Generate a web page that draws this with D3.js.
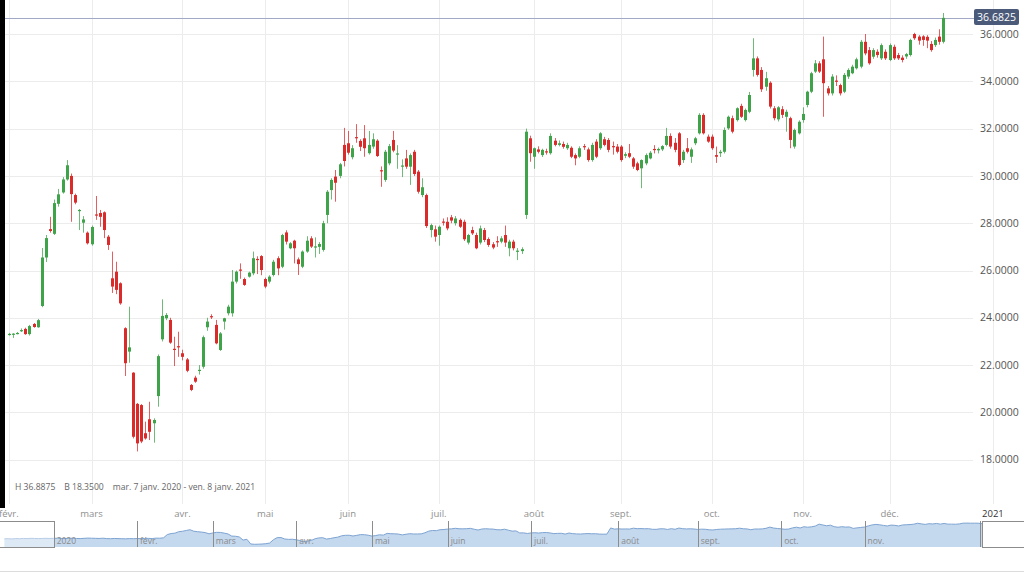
<!DOCTYPE html>
<html><head><meta charset="utf-8">
<script src="https://cdn.jsdelivr.net/npm/d3@7"></script>
<style>html,body{margin:0;padding:0;background:#fff;overflow:hidden}svg{display:block;font-family:"Open Sans",sans-serif}</style>
</head><body><svg id="c" width="1024" height="576"></svg>
<script>
// ---- data (trading days from 3 Feb 2020) ----
const openV = [
23.30,23.30,23.33,23.46,23.53,23.31,23.74,23.60,24.50,26.55,
27.75,27.55,28.82,29.30,29.85,30.00,29.19,28.54,28.02,27.60,
27.11,28.37,28.43,28.46,27.43,25.67,25.95,25.46,23.56,22.57,
21.68,20.36,20.31,19.12,19.71,19.54,20.69,23.09,23.98,23.91,
22.69,22.80,22.50,22.24,21.16,21.47,21.78,21.93,23.60,24.07,
23.70,22.64,23.84,24.19,24.19,25.53,26.04,25.64,25.74,25.88,
26.49,26.61,25.64,25.53,25.81,26.52,26.16,27.61,26.94,27.26,
26.47,26.16,26.80,27.36,26.98,27.00,26.87,28.35,29.40,29.97,
30.00,31.31,31.38,30.79,31.64,31.48,31.59,30.96,31.24,31.49,
30.24,29.83,30.53,31.52,30.91,30.40,30.74,30.39,31.02,30.18,
29.19,29.19,27.71,27.74,27.50,28.07,28.06,28.25,28.00,28.14,
28.06,27.18,27.71,27.50,27.18,27.71,27.33,27.11,27.24,27.22,
27.50,26.94,27.22,26.80,26.82,28.35,31.59,30.81,31.12,30.88,
31.04,30.96,31.49,31.31,31.35,31.17,31.19,30.88,30.81,31.26,
31.12,30.67,31.45,31.17,31.55,31.52,31.26,31.24,31.24,30.85,
30.96,30.74,30.53,30.32,30.53,30.74,31.14,31.08,31.12,31.31,
31.69,31.40,31.80,30.67,31.17,30.81,31.38,31.80,32.58,31.66,
31.66,30.88,30.96,31.02,32.01,32.44,32.36,32.96,32.36,32.71,
34.48,34.97,34.48,33.77,33.94,32.86,32.39,32.82,32.50,32.44,
31.24,31.80,32.36,33.00,33.56,34.41,34.76,34.93,33.70,33.49,
34.03,33.84,33.56,34.20,34.34,34.55,34.62,35.67,35.32,35.04,
35.25,34.97,35.25,34.90,35.46,35.11,35.00,35.05,35.11,36.00,
35.89,35.90,35.88,35.58,35.53,35.89,35.67];
const highV = [
23.36,23.35,23.40,23.55,23.58,23.70,23.78,23.95,26.95,27.50,
28.27,29.00,29.45,29.95,30.67,30.10,29.25,28.60,28.30,27.65,
27.90,29.15,28.56,28.50,27.50,26.80,26.37,25.50,23.60,24.47,
21.70,20.40,20.35,19.61,20.45,19.75,22.45,24.78,24.20,24.00,
23.20,23.41,22.65,22.30,21.20,21.55,22.00,23.25,24.00,24.15,
23.91,23.40,24.00,24.55,26.02,26.00,26.30,25.70,25.95,26.80,
26.60,26.65,25.70,25.80,26.45,26.60,27.55,27.70,27.20,27.30,
26.55,26.85,27.45,27.45,27.40,27.20,28.10,29.40,29.90,30.25,
30.55,32.03,31.90,31.30,32.19,31.55,32.15,31.90,31.80,31.55,
30.40,31.10,31.35,31.90,31.30,30.70,31.10,30.95,31.10,30.25,
29.90,29.25,27.98,27.90,27.90,28.20,28.25,28.35,28.30,28.20,
28.15,27.55,27.85,27.60,27.90,27.80,27.40,27.20,27.45,27.45,
27.90,27.30,27.30,26.95,26.98,32.00,31.70,31.20,31.25,31.15,
31.15,31.80,31.60,31.50,31.45,31.40,31.25,30.95,31.25,31.35,
31.20,31.40,31.55,31.85,31.65,31.60,31.45,31.35,31.30,31.00,
31.35,30.80,30.60,30.70,30.95,31.05,31.30,31.20,31.30,32.03,
31.80,31.60,31.85,31.10,31.60,31.20,31.65,32.65,32.65,31.75,
31.75,31.24,31.10,32.05,32.55,32.55,32.90,33.05,32.85,33.55,
35.82,35.05,34.60,34.40,34.00,32.95,32.95,32.95,32.80,32.50,
32.00,32.35,32.90,33.60,34.40,34.90,34.85,35.89,33.80,34.30,
34.25,33.90,34.35,34.55,34.70,35.00,35.75,36.00,35.45,35.40,
35.35,35.60,35.35,35.60,35.55,35.20,35.10,35.20,35.80,36.05,
35.95,35.95,35.95,35.70,35.85,36.20,36.8875];
const lowV = [
23.25,23.15,23.30,23.40,23.28,23.25,23.58,23.58,24.45,26.36,
27.60,27.50,28.70,29.25,29.80,28.06,28.80,27.71,27.60,27.10,
27.05,28.14,27.85,27.37,26.87,25.05,25.00,24.55,21.54,22.10,
18.90,18.35,18.70,18.85,18.83,18.72,20.24,23.00,23.90,22.90,
21.96,22.35,22.20,21.70,20.90,21.25,21.60,21.85,23.45,23.95,
22.88,22.60,23.50,24.10,24.05,25.45,25.65,25.35,25.70,25.80,
25.85,25.80,25.25,25.45,25.75,25.80,26.10,27.10,26.90,26.30,
25.81,26.10,26.75,26.95,26.55,26.70,26.80,28.00,29.00,28.91,
29.90,30.40,30.90,30.70,31.40,31.05,30.81,30.90,31.15,30.80,
29.54,29.75,30.45,31.00,30.30,29.95,30.30,29.62,30.00,29.25,
29.10,27.80,27.40,27.22,27.05,27.90,27.70,28.00,27.90,27.80,
27.25,27.10,27.50,26.90,27.10,27.20,27.00,26.90,27.00,27.15,
27.00,26.60,26.85,26.44,26.70,28.18,30.60,30.30,30.95,30.80,
30.90,30.90,31.25,31.25,31.15,31.10,30.75,30.45,30.75,31.10,
30.60,30.60,30.75,31.10,31.25,31.00,30.90,30.95,30.60,30.75,
30.75,30.30,30.20,29.48,30.45,30.70,30.95,30.95,31.05,31.25,
31.15,31.00,30.40,30.55,30.95,30.55,31.30,31.75,31.75,31.40,
31.10,30.55,30.80,30.95,31.95,31.80,32.30,32.45,32.30,32.65,
34.20,34.20,33.55,33.60,32.85,32.35,32.30,32.45,31.87,31.17,
31.15,31.75,32.25,32.90,33.50,34.35,34.35,32.50,33.40,33.40,
33.80,33.40,33.50,34.10,34.30,34.50,34.55,35.10,34.70,34.95,
35.00,34.90,34.90,34.85,34.90,34.90,34.80,34.95,35.05,35.75,
35.55,35.50,35.40,35.25,35.45,35.55,35.60];
const closeV = [
23.32,23.33,23.36,23.48,23.31,23.65,23.61,23.90,26.55,27.37,
27.67,28.85,29.22,29.85,30.45,29.23,28.87,28.56,28.16,27.15,
27.84,28.33,28.27,27.71,27.08,25.32,25.18,24.61,22.08,22.75,
18.97,18.69,18.77,18.90,19.18,19.68,22.38,24.08,24.12,22.95,
22.65,22.76,22.35,21.76,20.95,21.30,21.80,23.18,23.84,24.03,
22.92,23.34,23.98,24.47,25.53,25.95,26.00,25.39,25.91,26.52,
26.45,26.02,25.32,25.74,26.37,26.09,27.50,27.22,27.15,26.94,
26.27,26.80,27.26,27.01,27.02,27.12,28.00,29.33,29.83,29.71,
30.49,30.63,30.98,31.17,31.60,31.23,31.17,31.31,31.55,30.84,
30.20,31.02,31.26,31.07,30.95,30.44,30.39,30.88,30.08,29.33,
29.52,27.88,27.92,27.43,27.85,28.03,27.78,28.11,28.20,27.85,
27.32,27.50,27.57,26.94,27.78,27.29,27.08,26.97,27.20,27.36,
27.18,27.22,26.94,26.84,26.90,31.87,30.96,31.17,31.02,31.10,
31.00,31.69,31.31,31.38,31.23,31.31,30.81,30.74,31.17,31.22,
30.67,31.31,30.81,31.80,31.31,31.10,31.22,31.02,30.67,30.92,
30.81,30.39,30.25,30.67,30.88,30.98,31.10,31.14,31.26,31.69,
31.24,31.10,30.46,31.02,31.02,31.12,31.59,32.58,31.80,31.45,
31.17,30.81,31.02,31.94,32.50,31.87,32.86,32.50,32.79,33.42,
34.97,34.27,33.66,34.13,32.93,32.44,32.90,32.58,32.71,31.52,
31.94,32.29,32.62,33.56,34.34,34.76,34.41,33.92,33.49,34.20,
33.99,33.49,34.27,34.48,34.62,34.93,35.67,35.18,34.76,35.32,
35.11,35.53,34.97,35.53,34.97,34.97,34.90,35.15,35.75,35.82,
35.72,35.75,35.72,35.32,35.75,35.67,36.6825];
// navigator: closes before the visible window (Dec 2019 - Jan 2020)
const navPrefix = [23.1,23.2,23.0,23.3,23.2,23.4,23.3,23.5,23.4,23.3,23.4,23.5,23.4,
  23.5,23.6,23.4,23.3,23.5,23.6,23.4,23.3,23.5,23.7,23.6,23.5,23.4,23.6,23.3,23.2,23.4,23.3,23.2,23.1,23.3,23.2];
const yTicks = [18,20,22,24,26,28,30,32,34,36];
const monthLabels = ["févr.","mars","avr.","mai","juin","juil.","août","sept.","oct.","nov.","déc.","2021"];
const monthStart = [0,20,42,62,82,104,127,148,170,192,213,238];
const navLabels = ["2020","févr.","mars","avr.","mai","juin","juil.","août","sept.","oct.","nov."];
const navStart = [-22,0,20,42,62,82,104,127,148,170,192];
const lastPrice = 36.6825;
const infoText = "H 36.8875    B 18.3500    mar. 7 janv. 2020 - ven. 8 janv. 2021";

// ---- drawing ----
const svg = d3.select("#c");
const n = closeV.length;
const x = d3.scaleLinear().domain([0, n - 1]).range([8.8, 8.8 + (n - 1) * 4.135]);
const y = d3.scaleLinear().domain([18, 36]).range([459.7, 34]);
const plotRight = 973;

svg.append("rect").attr("width",1024).attr("height",576).attr("fill","#fff");

// horizontal grid
svg.append("g").selectAll("line").data(yTicks).join("line")
  .attr("x1",5).attr("x2",plotRight)
  .attr("y1",d=>Math.round(y(d))+0.5).attr("y2",d=>Math.round(y(d))+0.5)
  .attr("stroke","#ececec");
// vertical grid
svg.append("g").selectAll("line").data(monthStart).join("line")
  .attr("x1",d=>Math.round(x(d))+0.5).attr("x2",d=>Math.round(x(d))+0.5)
  .attr("y1",0).attr("y2",504).attr("stroke","#ececec");

// y labels
svg.append("g").selectAll("text").data(yTicks).join("text")
  .attr("x",980).attr("y",d=>y(d)).attr("dy","0.35em")
  .attr("font-size",10.5).attr("fill","#555")
  .text(d=>d3.format(".4f")(d));

// last price line
const yl = Math.round(y(lastPrice)) + 0.5;
svg.append("line").attr("x1",0).attr("x2",975).attr("y1",yl).attr("y2",yl).attr("stroke","#a1a9c6");

// candles
const clip = svg.append("defs").append("clipPath").attr("id","pc");
clip.append("rect").attr("x",5).attr("y",0).attr("width",plotRight-5).attr("height",505);
const idx = d3.range(n);
const col = i => closeV[i] >= openV[i] ? "#3fa34a" : "#db2a2a";
const g = svg.append("g").attr("clip-path","url(#pc)");
g.selectAll("line.w").data(idx).join("line").attr("class","w")
  .attr("x1",i=>Math.round(x(i))+0.5).attr("x2",i=>Math.round(x(i))+0.5)
  .attr("y1",i=>y(highV[i])).attr("y2",i=>y(lowV[i]))
  .attr("stroke",col).attr("stroke-opacity",0.75);
g.selectAll("rect.b").data(idx).join("rect").attr("class","b")
  .attr("x",i=>Math.round(x(i))-1).attr("width",3)
  .attr("y",i=>y(Math.max(openV[i],closeV[i])))
  .attr("height",i=>Math.max(1.2,Math.abs(y(openV[i])-y(closeV[i]))))
  .attr("fill",col);

// last price badge
svg.append("rect").attr("x",974).attr("y",9).attr("width",45).attr("height",16).attr("rx",2).attr("fill","#4b5a78");
svg.append("text").attr("x",996.5).attr("y",17).attr("dy","0.35em").attr("text-anchor","middle")
  .attr("font-size",10.5).attr("fill","#fff").text(d3.format(".4f")(lastPrice));

// info text
svg.append("text").attr("x",15).attr("y",490).attr("font-size",8.6).attr("fill","#666")
  .attr("xml:space","preserve").style("white-space","pre").text(infoText);

// x labels
svg.append("g").selectAll("text").data(monthLabels).join("text")
  .attr("x",(d,i)=>x(monthStart[i])).attr("y",517).attr("text-anchor","middle")
  .attr("font-size",9.5).attr("fill",d=>d==="2021"?"#333":"#8f8f8f").text(d=>d);

// left black strip
svg.append("rect").attr("x",0).attr("y",0).attr("width",5).attr("height",508).attr("fill","#000");

// ---- navigator ----
const navVals = navPrefix.concat(closeV);
const off = navPrefix.length;
const nx = d3.scaleLinear().domain([0,223]).range([137,982]);
const ny = d3.scaleLinear().domain([16.5,37.5]).range([547,521]);
const navPts = navVals.map((v,j)=>[nx(j-off), ny(v)]).filter(p=>p[0]<=982);
const ng = svg.append("g");
ng.append("path").datum(navPts)
  .attr("d", d3.area().x(p=>p[0]).y0(547).y1(p=>p[1]))
  .attr("fill","#c4d8ee");
ng.append("path").datum(navPts)
  .attr("d", d3.line().x(p=>p[0]).y(p=>p[1]))
  .attr("fill","none").attr("stroke","#7ea4d2").attr("stroke-width",1);
ng.selectAll("line").data(navStart).join("line")
  .attr("x1",d=>Math.round(nx(d))+0.5).attr("x2",d=>Math.round(nx(d))+0.5)
  .attr("y1",521).attr("y2",547).attr("stroke","#8c8c8c");
ng.selectAll("text").data(navLabels).join("text")
  .attr("x",(d,i)=>nx(navStart[i])+3).attr("y",544)
  .attr("font-size",8.5).attr("fill","#8a8a8a").text(d=>d);
// unselected masks
ng.append("rect").attr("x",-1).attr("y",521.5).attr("width",55.5).attr("height",26)
  .attr("fill","#fff").attr("fill-opacity",0.45).attr("stroke","#8c8c8c");
ng.append("rect").attr("x",982.5).attr("y",521.5).attr("width",45).attr("height",26)
  .attr("fill","#fff").attr("stroke","#8c8c8c");
ng.append("line").attr("x1",980.5).attr("x2",980.5).attr("y1",521).attr("y2",547).attr("stroke","#8c8c8c");

// bottom rule
svg.append("line").attr("x1",0).attr("x2",1024).attr("y1",571.5).attr("y2",571.5).attr("stroke","#dcdcdc");
</script>
</body></html>
